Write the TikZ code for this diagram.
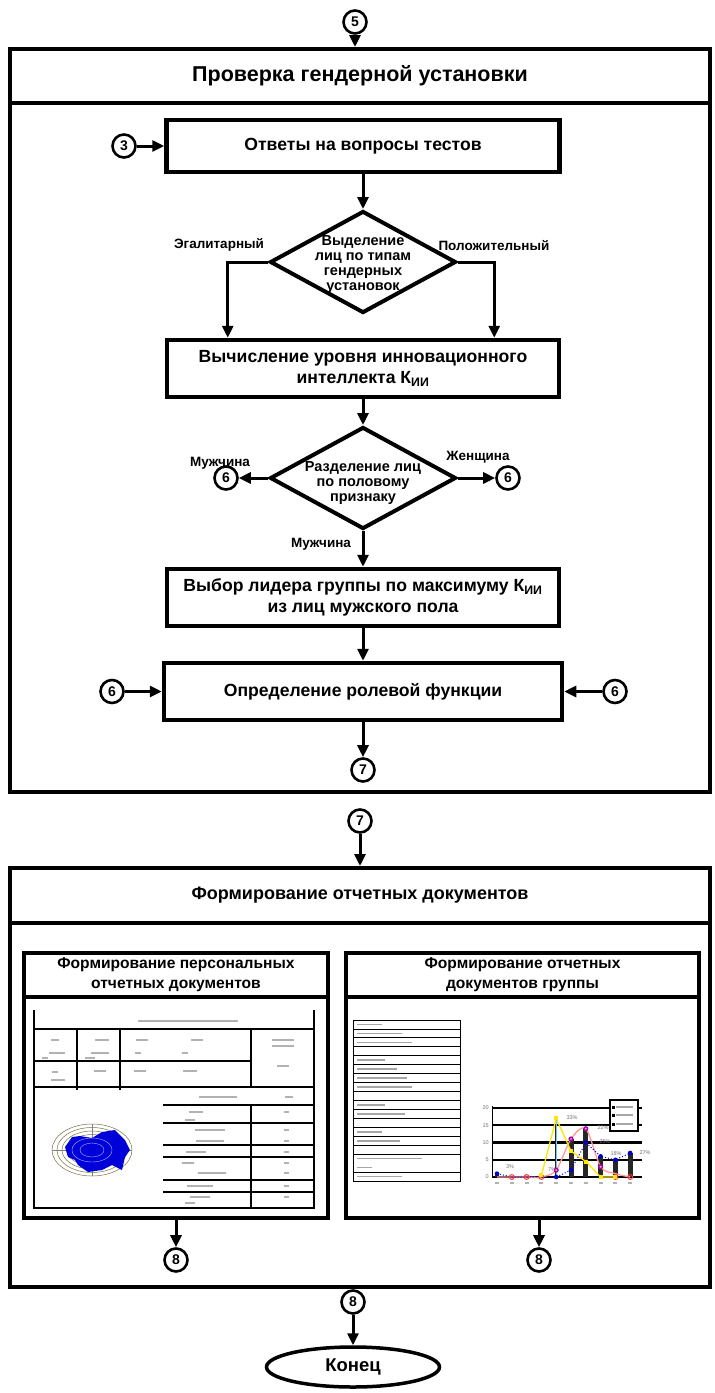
\documentclass[tikz,border=0pt]{standalone}
\usepackage{fontspec}
\setmainfont{Liberation Sans}
\usetikzlibrary{shapes.geometric,arrows.meta,calc}
\tikzset{
  arr/.style={line width=3pt,-{Triangle[length=12pt,width=11pt]}},
  frm/.style={draw,line width=4pt,minimum width=700pt,inner sep=0pt,align=center},
  bx/.style={draw,line width=4.5pt,fill=white,inner sep=0pt,align=center,font=\bfseries\fontsize{17.6}{21}\selectfont},
  dia/.style={draw,diamond,line width=4pt,inner sep=0pt,minimum width=186pt,minimum height=102pt},
  dtxt/.style={align=center,inner sep=0pt,font=\bfseries\fontsize{14.5}{15}\selectfont},
  lbl/.style={inner sep=0pt,font=\bfseries\fontsize{13.5}{14}\selectfont},
  cn/.style={circle,draw,line width=2.6pt,fill=white,minimum size=23pt,inner sep=0pt,font=\bfseries\fontsize{14}{14}\selectfont},
  sb/.style={draw,line width=4.5pt,inner sep=0pt,align=center,font=\bfseries\fontsize{15.6}{20}\selectfont},
  thin/.style={line width=1.2pt},
  tiny/.style={inner sep=0pt,text=black!55,font=\fontsize{5.5}{6}\selectfont},
}
\newcommand\txtbar[3]{\fill[black!30] ({#1-#3/2},{#2-0.8}) rectangle ({#1+#3/2},{#2+0.8});}
\newcommand\txtbarl[3]{\fill[black!35] (#1,{#2-0.8}) rectangle ({#1+#3},{#2+0.8});}
\begin{document}
\begin{tikzpicture}[x=1pt,y=-1pt]
\useasboundingbox (0,0) rectangle (715,1393);
\fill[white] (0,0) rectangle (715,1393);

% ---------------- frame 1 ----------------
\node[frm,minimum height=743pt] (f1) at (360,420.5) {};
\node[frm,minimum height=54pt,font=\bfseries\fontsize{21.5}{24}\selectfont] (t1) at (360,76) {Проверка гендерной установки};
\node[cn] (c5) at (355,22) {5};
\draw[arr] (c5) -- (c5 |- t1.north);

\node[bx,minimum width=393pt,minimum height=52pt] (b1) at (363,146) {Ответы на вопросы тестов};
\node[cn] (c3) at (124,146) {3};
\draw[arr] (c3) -- (b1);

\node[dia] (d1) at (363,262) {};
\node[dtxt] at (363,265) {Выделение\\лиц по типам\\гендерных\\установок};
\draw[arr] (b1) -- (d1);

\node[bx,minimum width=392pt,minimum height=57pt] (b2) at (363,368.5) {Вычисление уровня инновационного\\интеллекта К\textsubscript{ИИ}};
\draw[arr] (d1.west) -| ($(b2.north west)+(63,0)$);
\draw[arr] (d1.east) -| ($(b2.north east)+(-67,0)$);
\node[lbl] at (219,245) {Эгалитарный};
\node[lbl] at (494,246) {Положительный};

\node[dia] (d2) at (363,478) {};
\node[dtxt] at (363,483) {Разделение лиц\\по половому\\признаку};
\draw[arr] (b2) -- (d2);
\node[cn] (c6a) at (226,478) {6};
\node[cn] (c6b) at (508,478) {6};
\draw[arr] (d2.west) -- (c6a);
\draw[arr] (d2.east) -- (c6b);
\node[lbl] at (220,463) {Мужчина};
\node[lbl] at (478,457) {Женщина};
\node[lbl] at (321,544) {Мужчина};

\node[bx,minimum width=392pt,minimum height=57pt] (b3) at (363,597.5) {Выбор лидера группы по максимуму К\textsubscript{ИИ}\\из лиц мужского пола};
\draw[arr] (d2) -- (b3);

\node[bx,minimum width=398pt,minimum height=57pt] (b4) at (363,691.5) {Определение ролевой функции};
\draw[arr] (b3) -- (b4);
\node[cn] (c6c) at (112,691.5) {6};
\node[cn] (c6d) at (615,691.5) {6};
\draw[arr] (c6c) -- (b4);
\draw[arr] (c6d) -- (b4);
\node[cn] (c7a) at (363,770) {7};
\draw[arr] (b4) -- (c7a);

% ---------------- frame 2 ----------------
\node[cn] (c7b) at (360,821) {7};
\node[frm,minimum height=419pt] (f2) at (360,1077.5) {};
\node[frm,minimum height=55pt,font=\bfseries\fontsize{18}{22}\selectfont] (t2) at (360,895.5) {Формирование отчетных документов};
\draw[arr] (c7b) -- (c7b |- t2.north);

\node[sb,minimum width=304pt,minimum height=265pt] (sl) at (176,1085.5) {};
\node[sb,minimum width=304pt,minimum height=44pt] (slt) at (176,975) {Формирование персональных\\отчетных документов};
\node[sb,minimum width=353pt,minimum height=265pt] (sr) at (522.5,1085.5) {};
\node[sb,minimum width=353pt,minimum height=44pt] (srt) at (522.5,975) {Формирование отчетных\\документов группы};

\node[cn] (c8a) at (176,1260) {8};
\draw[arr] (sl) -- (c8a);
\node[cn] (c8b) at (539,1260) {8};
\draw[arr] (sr.south -| c8b) -- (c8b);
\node[cn] (c8c) at (353,1302) {8};
\node[draw,ellipse,line width=3.5pt,minimum width=173pt,minimum height=40pt,inner sep=0pt,font=\bfseries\fontsize{18.5}{20}\selectfont] (end) at (353,1367) {Конец};
\draw[arr] (c8c) -- (end);

% ---------------- left document image ----------------
\begin{scope}[thin]
\draw (34,1010) -- (34,1208) -- (314,1208) -- (314,1010);
\draw (34,1029) -- (314,1029);
\draw (34,1061) -- (251,1061);
\draw (34,1087) -- (314,1087);
\draw (77,1029) -- (77,1090);
\draw (120,1029) -- (120,1090);
\draw (251,1029) -- (251,1087);
\foreach \yy in {1105,1123,1145,1157,1180,1192} \draw (163,\yy) -- (314,\yy);
\draw (251,1105) -- (251,1208);
\end{scope}
\txtbar{188}{1021}{100}
\txtbar{55}{1040}{8} \txtbar{102}{1040}{14} \txtbar{142}{1040}{12} \txtbar{197}{1040}{12}
\txtbar{57}{1053}{16} \txtbar{100}{1053}{18} \txtbar{138}{1053}{6} \txtbar{185}{1053}{6}
\txtbar{45}{1058}{6} \txtbar{90}{1058}{10}
\txtbar{283}{1040}{22} \txtbar{283}{1046}{22} \txtbar{283}{1066}{12}
\txtbar{55}{1072}{6} \txtbar{58}{1080}{14} \txtbar{100}{1071}{12} \txtbar{140}{1071}{12} \txtbar{190}{1071}{14}
\txtbar{218}{1097}{38} \txtbar{289}{1097}{8}
\txtbar{196}{1112}{14} \txtbar{190}{1120}{10} \txtbar{210}{1130}{30} \txtbar{210}{1141}{28}
\txtbar{196}{1152}{20} \txtbar{188}{1163}{12} \txtbar{212}{1173}{28} \txtbar{200}{1186}{26}
\txtbar{200}{1197}{20} \txtbar{190}{1203}{10}
\foreach \yy in {1112,1130,1141,1152,1163,1173,1186,1197} \txtbar{286}{\yy}{5};
% polar chart
\foreach \rx/\ry in {40/26,35/22.5,30/19,25/15.5,20/12}
  \draw[line width=0.5pt,black!45!yellow!70!black] (92,1150) ellipse ({\rx} and {\ry});
\draw[line width=0.5pt,black!50] (52,1150) -- (132,1150) (92,1124) -- (92,1176);
\fill[blue!85!black] (65,1147) -- (72,1137) -- (80,1136) -- (92,1138) -- (102,1132) -- (115,1130)
  -- (125,1140) -- (130,1150) -- (125,1157) -- (122,1170) -- (112,1165) -- (102,1170)
  -- (88,1172) -- (78,1165) -- (75,1160) -- (68,1157) -- cycle;
\draw[line width=0.4pt,white!70!blue] (92,1150) ellipse (20 and 12) (92,1150) ellipse (12 and 7);

% ---------------- right document image ----------------
\draw[line width=0.8pt] (353,1020) rectangle (460,1181);
\foreach \k in {1,...,15,17} \draw[line width=0.8pt] (353,{1020+\k*8.94}) -- (460,{1020+\k*8.94});
\foreach \k/\len in {1/25,2/45,3/55,5/28,6/40,7/50,8/55,10/28,11/48,13/25,14/43,16/65,17/15,18/45}
  \txtbarl{357}{1020+(\k-0.5)*8.94}{\len};
% chart
\draw[line width=0.6pt] (492,1106) -- (492,1177);
\foreach \v in {0,5,10,15,20} {
  \draw[line width=2.2pt] (492,{1177-\v*3.45}) -- (642,{1177-\v*3.45});
  \node[tiny,anchor=east] at (489,{1177-\v*3.45}) {\v};
}
\foreach \i/\v/\w in {0/1/4,4/15/2.5,5/11/5,6/14/5,7/6/5,8/5/5,9/7/5}
  \fill[black!85] ({497+\i*14.8-\w/2},1177) rectangle ({497+\i*14.8+\w/2},{1177-\v*3.45});
\draw[pink!80!red,line width=1.3pt] plot[smooth] coordinates {(497,1177) (511.8,1177) (526.6,1177) (541.4,1177) (556.2,1170.1) (571,1139) (585.8,1128.7) (600.6,1166.7) (615.4,1173.6) (630.2,1177)};
\draw[yellow!90!orange,line width=1.3pt] (541.4,1175.3) -- (556.2,1118.4) -- (571,1151.1) -- (585.8,1161.5) -- (600.6,1177) -- (615.4,1177);
\draw[cyan!60,line width=0.8pt] (556.2,1118.4) -- (556.2,1177);
\draw[blue,line width=1pt,dotted] (497,1173.6) -- (511.8,1177) -- (526.6,1177) -- (541.4,1177) -- (556.2,1177) -- (571,1170.1) -- (585.8,1142.5) -- (600.6,1156.3) -- (615.4,1159.8) -- (630.2,1152.9);
\foreach \px/\py in {497/1173.6,556.2/1177,571/1170.1,585.8/1142.5,600.6/1156.3,615.4/1159.8,630.2/1152.9}
  \fill[blue!80!black] (\px,\py) circle (2.3);
\foreach \px/\py in {556.2/1170.1,571/1139,585.8/1128.7,600.6/1166.7}
  {\fill[violet!70!magenta] (\px,\py) circle (2.6); \fill[white!60!violet] (\px,\py) circle (1.2);}
\foreach \px in {511.8,526.6,541.4,630.2,615.4}
  \draw[red!80,line width=1pt] (\px,1177) circle (2.4);
\foreach \px/\py in {541.4/1175.3,556.2/1118.4,571/1151.1,585.8/1161.5,600.6/1177,615.4/1177}
  \fill[yellow!90!orange] ({\px-2},{\py-2}) rectangle ({\px+2},{\py+2});
\foreach \i in {0,...,9} \txtbar{497+\i*14.8}{1183}{4};
\node[tiny] at (510,1167) {3\%};
\node[tiny] at (572,1118) {33\%};
\node[tiny] at (552,1170) {7\%};
\node[tiny] at (603,1128) {22\%};
\node[tiny] at (605,1142) {25\%};
\node[tiny] at (616,1154) {18\%};
\node[tiny] at (645,1153) {27\%};
\draw[line width=2.4pt,fill=white] (610,1100) rectangle (638,1131);
\foreach \yy in {1107,1115,1124} {\fill[black] (612,{\yy-1.5}) rectangle (615,{\yy+1.5}); \txtbarl{616}{\yy}{17}}
\end{tikzpicture}
\end{document}
